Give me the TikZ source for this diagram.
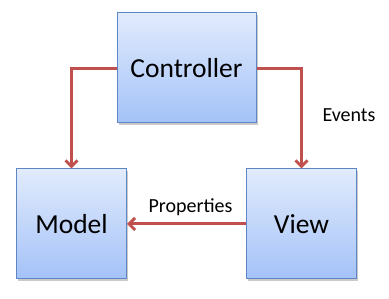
\documentclass[tikz,border=0pt]{standalone}
\usepackage{fontspec}
\setmainfont{Carlito}
\usetikzlibrary{arrows.meta,shadows}
\definecolor{boxtop}{HTML}{E1EBFC}
\definecolor{boxbot}{HTML}{A4C2F8}
\definecolor{boxline}{HTML}{5F86C4}
\definecolor{arr}{HTML}{C0504D}
\tikzset{
  mvcbox/.style={draw=boxline, line width=1pt, top color=boxtop, bottom color=boxbot,
    minimum width=#1, inner sep=0pt, font=\fontsize{27.5}{32}\selectfont,
    drop shadow={shadow xshift=1.5pt, shadow yshift=-2pt, opacity=0.35, fill=black!60}},
  conn/.style={draw=arr, line width=3pt, -{Straight Barb[length=6pt,width=12pt]}},
  lbl/.style={font=\fontsize{20}{24}\selectfont, inner sep=0pt}
}
\begin{document}
\begin{tikzpicture}[x=1pt,y=-1pt]
\useasboundingbox (0,0) rectangle (389,299);
\node[mvcbox=139pt, minimum height=110pt] (ctrl) at (186.5,68) {Controller};
\node[mvcbox=110pt, minimum height=110pt] (model) at (71.5,224) {Model};
\node[mvcbox=110pt, minimum height=110pt] (view) at (301.5,224) {View};
\draw[conn] (ctrl.west |- 0,69) -| (model.north);
\draw[conn] (ctrl.east |- 0,69) -| (view.north);
\draw[conn] (view.west) -- (model.east);
\node[lbl] (ev) at (349,115) {Events};
\node[lbl] (pr) at (190.5,207) {Properties};
\end{tikzpicture}
\end{document}
